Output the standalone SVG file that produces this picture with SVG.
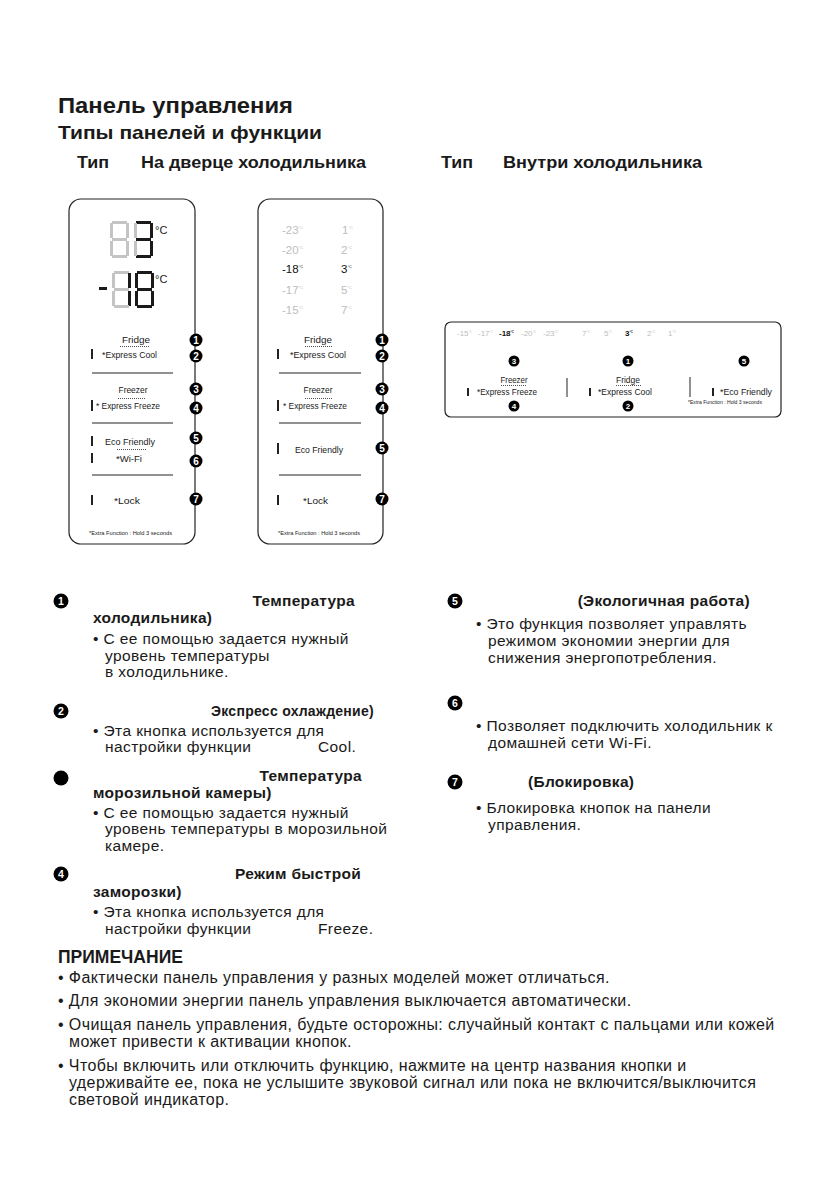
<svg xmlns="http://www.w3.org/2000/svg" width="839" height="1191" viewBox="0 0 839 1191">
<style>
text{font-family:"Liberation Sans",Arial,sans-serif;fill:#1a1a1a}
.h1{font-size:22px;font-weight:bold}
.h2{font-size:18.5px;font-weight:bold}
.h3{font-size:16px;font-weight:bold}
.b{font-size:15.5px;font-weight:bold;letter-spacing:0.3px}
.t{font-size:15.5px;letter-spacing:0.4px}
.n{font-size:16px;letter-spacing:0.4px}
.pnl{fill:none;stroke:#222;stroke-width:1.2}
.sep{stroke:#222;stroke-width:1}
.dot{stroke:#222;stroke-width:0.8;stroke-dasharray:1 1}
.bar{fill:#222}
.lb{font-size:9.5px}
.sm{font-size:5px}
.num{fill:#fff;font-weight:bold;text-anchor:middle}
.on{fill:#1a1a1a}
.off{fill:#c4c4c4}
.tg{font-size:11.5px;fill:#bdbdbd}
.tb{font-size:11.5px;fill:#111}
.tg3{font-size:8px;fill:#bdbdbd}
.tb3{font-size:8px;fill:#111;font-weight:bold}
</style>
<rect width="839" height="1191" fill="#fff"/>

<g id="headings">
<text class="h1" x="58" y="113" textLength="235" lengthAdjust="spacingAndGlyphs">Панель управления</text>
<text class="h2" x="58" y="139" textLength="264" lengthAdjust="spacingAndGlyphs">Типы панелей и функции</text>
<text class="h3" x="77" y="168" textLength="32" lengthAdjust="spacingAndGlyphs">Тип</text>
<text class="h3" x="141" y="168" textLength="225" lengthAdjust="spacingAndGlyphs">На дверце холодильника</text>
<text class="h3" x="441" y="168" textLength="32" lengthAdjust="spacingAndGlyphs">Тип</text>
<text class="h3" x="503" y="168" textLength="199" lengthAdjust="spacingAndGlyphs">Внутри холодильника</text>
</g>

<!-- Panel 1 -->
<g id="panel1">
<rect class="pnl" x="69" y="199" width="126" height="345" rx="12"/>
<g id="d1">
<rect class="off" x="112" y="221" width="15" height="3"/>
<rect class="off" x="126" y="223" width="3" height="15"/>
<rect class="off" x="126" y="241" width="3" height="15"/>
<rect class="off" x="112" y="255" width="15" height="3"/>
<rect class="off" x="110" y="241" width="3" height="15"/>
<rect class="off" x="110" y="223" width="3" height="15"/>
<rect class="off" x="112" y="238" width="15" height="3"/>
</g>
<g id="d2">
<rect class="on" x="136" y="221" width="15" height="3"/>
<rect class="on" x="150" y="223" width="3" height="15"/>
<rect class="on" x="150" y="241" width="3" height="15"/>
<rect class="on" x="136" y="255" width="15" height="3"/>
<rect class="off" x="134" y="241" width="3" height="15"/>
<rect class="off" x="134" y="223" width="3" height="15"/>
<rect class="on" x="136" y="238" width="15" height="3"/>
</g>
<text x="155" y="234" style="font-size:11px">°C</text>
<rect class="on" x="99" y="287" width="8" height="3"/>
<g id="d3">
<rect class="off" x="114" y="271" width="15" height="3"/>
<rect class="on" x="128" y="273" width="3" height="15"/>
<rect class="on" x="128" y="291" width="3" height="15"/>
<rect class="off" x="114" y="305" width="15" height="3"/>
<rect class="off" x="112" y="291" width="3" height="15"/>
<rect class="off" x="112" y="273" width="3" height="15"/>
<rect class="off" x="114" y="288" width="15" height="3"/>
</g>
<g id="d4">
<rect class="on" x="137" y="271" width="15" height="3"/>
<rect class="on" x="151" y="273" width="3" height="15"/>
<rect class="on" x="151" y="291" width="3" height="15"/>
<rect class="on" x="137" y="305" width="15" height="3"/>
<rect class="on" x="135" y="291" width="3" height="15"/>
<rect class="on" x="135" y="273" width="3" height="15"/>
<rect class="on" x="137" y="288" width="15" height="3"/>
</g>
<text x="155" y="283" style="font-size:11px">°C</text>

<text class="lb" x="136" y="343" text-anchor="middle" textLength="28" lengthAdjust="spacingAndGlyphs">Fridge</text>
<line class="dot" x1="120" y1="346.5" x2="150" y2="346.5"/>
<rect class="bar" x="91" y="349" width="2" height="10"/>
<text class="lb" x="102" y="358" textLength="55" lengthAdjust="spacingAndGlyphs">*Express Cool</text>
<line class="sep" x1="92" y1="373" x2="173" y2="373"/>
<text class="lb" x="133" y="393" text-anchor="middle" textLength="29" lengthAdjust="spacingAndGlyphs">Freezer</text>
<line class="dot" x1="118" y1="398.5" x2="146" y2="398.5"/>
<rect class="bar" x="91" y="400" width="2" height="11"/>
<text class="lb" x="96" y="409" textLength="64" lengthAdjust="spacingAndGlyphs">* Express Freeze</text>
<line class="sep" x1="92" y1="423" x2="173" y2="423"/>
<rect class="bar" x="91" y="436" width="2" height="10"/>
<text class="lb" x="105" y="445" textLength="50" lengthAdjust="spacingAndGlyphs">Eco Friendly</text>
<line class="dot" x1="117" y1="449.5" x2="146" y2="449.5"/>
<rect class="bar" x="91" y="453" width="2" height="10"/>
<text class="lb" x="116" y="462" textLength="26" lengthAdjust="spacingAndGlyphs">*Wi-Fi</text>
<line class="sep" x1="92" y1="475" x2="173" y2="475"/>
<rect class="bar" x="91" y="495" width="2" height="10"/>
<text class="lb" x="114" y="504" textLength="26" lengthAdjust="spacingAndGlyphs">*Lock</text>
<text class="sm" x="89" y="535" textLength="83" lengthAdjust="spacingAndGlyphs">*Extra Function : Hold 3 seconds</text>
</g>
<g id="panel1-marks">
<circle cx="196" cy="340" r="6.5"/><text class="num" x="196" y="343.5" font-size="10">1</text>
<circle cx="196" cy="356" r="6.5"/><text class="num" x="196" y="359.5" font-size="10">2</text>
<circle cx="196" cy="389" r="6.5"/><text class="num" x="196" y="392.5" font-size="10">3</text>
<circle cx="196" cy="408" r="6.5"/><text class="num" x="196" y="411.5" font-size="10">4</text>
<circle cx="196" cy="438" r="6.5"/><text class="num" x="196" y="441.5" font-size="10">5</text>
<circle cx="196" cy="461" r="6.5"/><text class="num" x="196" y="464.5" font-size="10">6</text>
<circle cx="196" cy="499" r="6.5"/><text class="num" x="196" y="502.5" font-size="10">7</text>
</g>

<!-- Panel 2 -->
<g id="panel2">
<rect class="pnl" x="258" y="199" width="125" height="345" rx="12"/>
<text class="tg" x="282" y="234">-23<tspan font-size="4" dy="-5">°C</tspan></text>
<text class="tg" x="282" y="254">-20<tspan font-size="4" dy="-5">°C</tspan></text>
<text class="tb" x="282" y="273">-18<tspan font-size="4" dy="-5">°C</tspan></text>
<text class="tg" x="282" y="294">-17<tspan font-size="4" dy="-5">°C</tspan></text>
<text class="tg" x="282" y="314">-15<tspan font-size="4" dy="-5">°C</tspan></text>
<text class="tg" x="342" y="234">1<tspan font-size="4" dy="-5">°C</tspan></text>
<text class="tg" x="341" y="254">2<tspan font-size="4" dy="-5">°C</tspan></text>
<text class="tb" x="341" y="273">3<tspan font-size="4" dy="-5">°C</tspan></text>
<text class="tg" x="341" y="294">5<tspan font-size="4" dy="-5">°C</tspan></text>
<text class="tg" x="341" y="314">7<tspan font-size="4" dy="-5">°C</tspan></text>

<text class="lb" x="318" y="343" text-anchor="middle" textLength="28" lengthAdjust="spacingAndGlyphs">Fridge</text>
<line class="dot" x1="305" y1="346.5" x2="333" y2="346.5"/>
<rect class="bar" x="277" y="349" width="2" height="10"/>
<text class="lb" x="290" y="358" textLength="56" lengthAdjust="spacingAndGlyphs">*Express Cool</text>
<line class="sep" x1="279" y1="373" x2="361" y2="373"/>
<text class="lb" x="318" y="393" text-anchor="middle" textLength="29" lengthAdjust="spacingAndGlyphs">Freezer</text>
<line class="dot" x1="305" y1="398.5" x2="332" y2="398.5"/>
<rect class="bar" x="277" y="400" width="2" height="11"/>
<text class="lb" x="283" y="409" textLength="64" lengthAdjust="spacingAndGlyphs">* Express Freeze</text>
<line class="sep" x1="279" y1="423" x2="361" y2="423"/>
<rect class="bar" x="277" y="443" width="2" height="11"/>
<text class="lb" x="295" y="453" textLength="48" lengthAdjust="spacingAndGlyphs">Eco Friendly</text>
<line class="sep" x1="279" y1="475" x2="361" y2="475"/>
<rect class="bar" x="277" y="495" width="2" height="10"/>
<text class="lb" x="303" y="504" textLength="25" lengthAdjust="spacingAndGlyphs">*Lock</text>
<text class="sm" x="278" y="535" textLength="82" lengthAdjust="spacingAndGlyphs">*Extra Function : Hold 3 seconds</text>
</g>
<g id="panel2-marks">
<circle cx="382" cy="340" r="6.5"/><text class="num" x="382" y="343.5" font-size="10">1</text>
<circle cx="382" cy="356" r="6.5"/><text class="num" x="382" y="359.5" font-size="10">2</text>
<circle cx="382" cy="389" r="6.5"/><text class="num" x="382" y="392.5" font-size="10">3</text>
<circle cx="382" cy="408" r="6.5"/><text class="num" x="382" y="411.5" font-size="10">4</text>
<circle cx="382" cy="448" r="6.5"/><text class="num" x="382" y="451.5" font-size="10">5</text>
<circle cx="382" cy="499" r="6.5"/><text class="num" x="382" y="502.5" font-size="10">7</text>
</g>

<!-- Panel 3 -->
<g id="panel3">
<rect class="pnl" x="445" y="322" width="336" height="95" rx="6"/>
<text class="tg3" x="457" y="336">-15<tspan font-size="3" dy="-3">°C</tspan></text>
<text class="tg3" x="478" y="336">-17<tspan font-size="3" dy="-3">°C</tspan></text>
<text class="tb3" x="499" y="336">-18<tspan font-size="3" dy="-3">°C</tspan></text>
<text class="tg3" x="521" y="336">-20<tspan font-size="3" dy="-3">°C</tspan></text>
<text class="tg3" x="543" y="336">-23<tspan font-size="3" dy="-3">°C</tspan></text>
<text class="tg3" x="582" y="336">7<tspan font-size="3" dy="-3">°C</tspan></text>
<text class="tg3" x="604" y="336">5<tspan font-size="3" dy="-3">°C</tspan></text>
<text class="tb3" x="625" y="336">3<tspan font-size="3" dy="-3">°C</tspan></text>
<text class="tg3" x="647" y="336">2<tspan font-size="3" dy="-3">°C</tspan></text>
<text class="tg3" x="668" y="336">1<tspan font-size="3" dy="-3">°C</tspan></text>

<text class="lb" x="514" y="383" text-anchor="middle" font-size="8.5" textLength="27" lengthAdjust="spacingAndGlyphs">Freezer</text>
<line class="dot" x1="501" y1="385.5" x2="527" y2="385.5"/>
<rect class="bar" x="467" y="388" width="2" height="8"/>
<text class="lb" x="477" y="395" font-size="8.5" textLength="60" lengthAdjust="spacingAndGlyphs">*Express Freeze</text>
<line class="sep" x1="567" y1="378" x2="567" y2="397"/>
<text class="lb" x="628" y="383" text-anchor="middle" font-size="8.5" textLength="24" lengthAdjust="spacingAndGlyphs">Fridge</text>
<line class="dot" x1="616" y1="385.5" x2="641" y2="385.5"/>
<rect class="bar" x="589" y="388" width="2" height="8"/>
<text class="lb" x="598" y="395" font-size="8.5" textLength="54" lengthAdjust="spacingAndGlyphs">*Express Cool</text>
<line class="sep" x1="690" y1="377" x2="690" y2="397"/>
<rect class="bar" x="712" y="388" width="2" height="8"/>
<text class="lb" x="720" y="395" font-size="8.5" textLength="52" lengthAdjust="spacingAndGlyphs">*Eco Friendly</text>
<text class="sm" x="688" y="404" font-size="4" textLength="74" lengthAdjust="spacingAndGlyphs">*Extra Function : Hold 3 seconds</text>
</g>
<g id="panel3-marks">
<circle cx="514" cy="361" r="5.5"/><text class="num" x="514" y="364" font-size="8">3</text>
<circle cx="514" cy="406" r="5.5"/><text class="num" x="514" y="409" font-size="8">4</text>
<circle cx="628" cy="361" r="5.5"/><text class="num" x="628" y="364" font-size="8">1</text>
<circle cx="628" cy="406" r="5.5"/><text class="num" x="628" y="409" font-size="8">2</text>
<circle cx="744" cy="361" r="5.5"/><text class="num" x="744" y="364" font-size="8">5</text>
</g>

<!-- Descriptions left -->
<g id="desc1">
<circle cx="61" cy="601" r="7.5"/><text class="num" x="61" y="605" font-size="10.5">1</text>
<text class="b" x="355" y="606" text-anchor="end">Температура</text>
<text class="b" x="93" y="623">холодильника)</text>
<text class="t" x="93" y="644">• С ее помощью задается нужный</text>
<text class="t" x="105" y="661">уровень температуры</text>
<text class="t" x="105" y="677">в холодильнике.</text>
</g>
<g id="desc2">
<circle cx="61" cy="711" r="7.5"/><text class="num" x="61" y="715" font-size="10.5">2</text>
<text class="b" x="211" y="716" textLength="163" lengthAdjust="spacingAndGlyphs">Экспресс охлаждение)</text>
<text class="t" x="93" y="736">• Эта кнопка используется для</text>
<text class="t" x="105" y="752">настройки функции</text>
<text class="t" x="318" y="752">Cool.</text>
</g>
<g id="desc3">
<circle cx="61" cy="778" r="7.5"/>
<text class="b" x="362" y="781" text-anchor="end">Температура</text>
<text class="b" x="93" y="798">морозильной камеры)</text>
<text class="t" x="93" y="818">• С ее помощью задается нужный</text>
<text class="t" x="105" y="834">уровень температуры в морозильной</text>
<text class="t" x="105" y="851">камере.</text>
</g>
<g id="desc4">
<circle cx="61" cy="874" r="7.5"/><text class="num" x="61" y="878" font-size="10.5">4</text>
<text class="b" x="361" y="879" text-anchor="end">Режим быстрой</text>
<text class="b" x="93" y="897">заморозки)</text>
<text class="t" x="93" y="917">• Эта кнопка используется для</text>
<text class="t" x="105" y="934">настройки функции</text>
<text class="t" x="318" y="934">Freeze.</text>
</g>

<!-- Descriptions right -->
<g id="desc5">
<circle cx="455" cy="601" r="7.5"/><text class="num" x="455" y="605" font-size="10.5">5</text>
<text class="b" x="750" y="606" text-anchor="end">(Экологичная работа)</text>
<text class="t" x="476" y="629">• Это функция позволяет управлять</text>
<text class="t" x="488" y="646">режимом экономии энергии для</text>
<text class="t" x="488" y="663">снижения энергопотребления.</text>
</g>
<g id="desc6">
<circle cx="455" cy="703" r="7.5"/><text class="num" x="455" y="707" font-size="10.5">6</text>
<text class="t" x="476" y="731">• Позволяет подключить холодильник к</text>
<text class="t" x="488" y="748">домашней сети Wi-Fi.</text>
</g>
<g id="desc7">
<circle cx="455" cy="782" r="7.5"/><text class="num" x="455" y="786" font-size="10.5">7</text>
<text class="b" x="528" y="787">(Блокировка)</text>
<text class="t" x="476" y="813">• Блокировка кнопок на панели</text>
<text class="t" x="488" y="830">управления.</text>
</g>

<!-- Note -->
<g id="note">
<text x="58" y="963" style="font-size:17.5px;font-weight:bold">ПРИМЕЧАНИЕ</text>
<text class="n" x="58" y="983">• Фактически панель управления у разных моделей может отличаться.</text>
<text class="n" x="58" y="1006">• Для экономии энергии панель управления выключается автоматически.</text>
<text class="n" x="58" y="1030">• Очищая панель управления, будьте осторожны: случайный контакт с пальцами или кожей</text>
<text class="n" x="69" y="1047">может привести к активации кнопок.</text>
<text class="n" x="58" y="1071">• Чтобы включить или отключить функцию, нажмите на центр названия кнопки и</text>
<text class="n" x="69" y="1088">удерживайте ее, пока не услышите звуковой сигнал или пока не включится/выключится</text>
<text class="n" x="69" y="1105">световой индикатор.</text>
</g>
</svg>
